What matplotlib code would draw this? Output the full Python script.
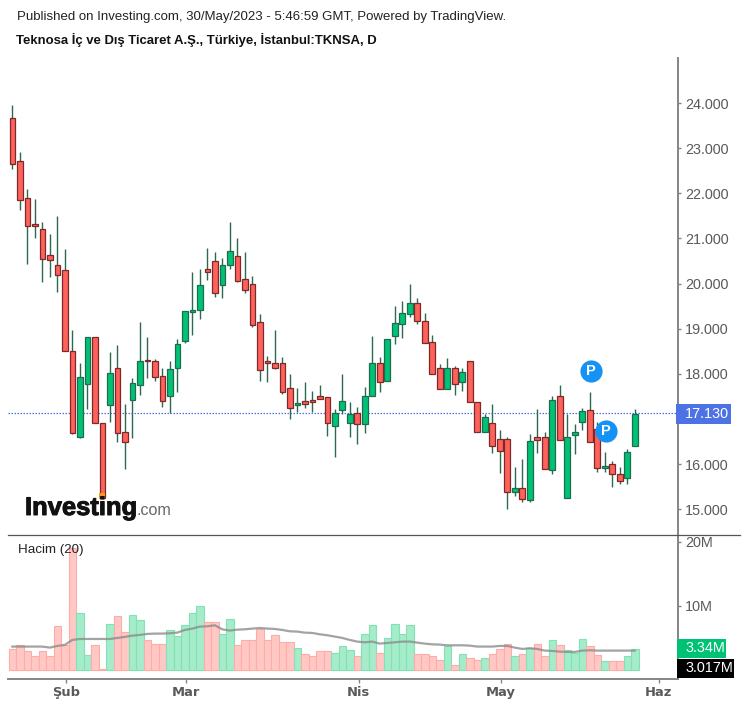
import matplotlib
matplotlib.use("Agg")
import matplotlib.pyplot as plt
import matplotlib.patheffects as pe
from matplotlib.lines import Line2D

plt.rcParams['font.family'] = ['Liberation Sans', 'DejaVu Sans']

# fiyat verisi
opens = [23.68, 22.71, 21.89, 21.31, 21.22, 20.64, 20.42, 20.30, 18.50, 16.61, 17.78, 18.81,
         16.92, 17.31, 18.14, 16.70, 17.42, 17.75, 18.30, 18.29, 17.95, 17.50, 18.12, 18.72,
         19.38, 19.42, 20.33, 20.50, 19.97, 20.42, 20.61, 20.11, 20.00, 19.14, 18.29, 18.25,
         18.23, 17.68, 17.31, 17.39, 17.42, 17.50, 17.48, 16.84, 17.20, 16.91, 17.14, 16.89,
         17.50, 18.25, 17.84, 18.83, 19.11, 19.33, 19.58, 19.17, 18.70, 18.14, 17.67, 18.14,
         17.81, 18.29, 17.37, 16.70, 16.90, 16.55, 16.55, 15.39, 15.48, 15.20, 16.59, 16.60,
         15.86, 17.51, 15.25, 16.64, 16.94, 17.20, 16.78, 15.92, 16.01, 15.79, 15.70, 16.40]
highs = [23.95, 22.92, 22.09, 21.87, 21.37, 21.11, 21.50, 20.76, 18.98, 18.23, 18.81, 18.81,
         16.92, 18.49, 18.65, 17.34, 17.90, 19.15, 18.82, 18.32, 18.12, 18.29, 18.78, 19.39,
         20.26, 20.33, 20.78, 20.70, 20.56, 21.36, 21.00, 20.70, 20.17, 19.32, 18.40, 18.98,
         18.37, 17.99, 17.68, 17.81, 17.62, 17.76, 17.48, 17.21, 17.99, 17.37, 17.27, 17.70,
         18.84, 18.37, 18.78, 19.51, 19.62, 20.00, 19.67, 19.34, 18.87, 18.21, 18.34, 18.17,
         18.14, 18.29, 17.37, 17.11, 17.34, 16.75, 16.59, 15.94, 16.12, 16.66, 17.21, 16.71,
         17.51, 17.76, 17.11, 16.88, 17.25, 17.59, 16.94, 16.27, 16.07, 15.93, 16.33, 17.21]
lows = [22.53, 21.63, 20.43, 21.01, 20.04, 20.15, 19.82, 18.50, 16.66, 16.58, 17.21, 16.92,
        15.24, 16.94, 16.49, 15.89, 16.58, 17.52, 17.91, 17.84, 17.27, 17.13, 17.60, 18.69,
        18.85, 19.22, 20.08, 19.71, 19.68, 20.33, 20.04, 19.79, 19.03, 17.85, 17.82, 18.10,
        17.55, 17.00, 17.16, 17.24, 17.16, 17.44, 16.63, 16.16, 17.12, 16.60, 16.44, 16.69,
        17.50, 17.60, 17.84, 18.66, 18.80, 19.26, 19.10, 18.69, 18.00, 17.67, 17.67, 17.52,
        17.63, 17.37, 16.72, 16.70, 16.25, 15.80, 15.00, 15.29, 15.16, 15.17, 16.25, 15.89,
        15.77, 16.53, 15.25, 16.22, 16.75, 16.50, 15.83, 15.83, 15.50, 15.55, 15.55, 16.40]
closes = [22.66, 21.86, 21.27, 21.27, 20.55, 20.53, 20.19, 18.50, 16.69, 17.92, 18.81, 16.92,
          15.24, 18.01, 16.69, 16.50, 17.79, 18.29, 18.28, 17.94, 17.39, 18.11, 18.67, 19.39,
          19.40, 19.97, 20.25, 19.80, 20.42, 20.72, 20.05, 19.85, 19.08, 18.08, 18.25, 18.14,
          17.60, 17.25, 17.35, 17.33, 17.37, 17.44, 16.90, 17.13, 17.40, 17.10, 16.89, 17.50,
          18.23, 17.81, 18.78, 19.12, 19.34, 19.58, 19.17, 18.69, 18.00, 17.67, 18.14, 17.78,
          18.05, 17.37, 16.72, 17.04, 16.40, 16.28, 15.39, 15.48, 15.23, 16.51, 16.53, 15.89,
          17.43, 16.53, 16.60, 16.71, 17.17, 16.50, 15.92, 15.94, 15.78, 15.62, 16.26, 17.12]

# hacim, milyon
volumes = [3.28, 3.90, 2.97, 2.14, 2.97, 2.14, 6.88, 3.90, 19.0, 8.96, 2.34, 3.90,
           0.10, 7.19, 8.44, 5.89, 8.60, 7.81, 4.69, 4.11, 4.11, 6.25, 5.26, 7.03,
           8.96, 10.0, 7.45, 7.45, 5.63, 7.97, 3.90, 4.69, 4.69, 6.46, 4.69, 5.47,
           4.32, 4.32, 3.49, 2.50, 2.19, 2.92, 2.92, 2.71, 3.70, 3.13, 2.14, 5.57,
           6.98, 2.71, 5.05, 7.14, 5.57, 6.98, 2.50, 2.50, 2.14, 1.56, 3.70, 0.78,
           2.50, 1.93, 1.56, 1.93, 2.50, 3.28, 4.06, 2.19, 2.50, 3.49, 4.06, 2.19,
           4.64, 3.85, 3.07, 2.71, 4.84, 3.70, 2.34, 1.35, 1.35, 1.35, 2.14, 3.34]
vol_ma = [3.65, 3.65, 3.65, 3.65, 3.65, 3.49, 3.75, 3.91, 4.69, 4.84, 4.84, 4.84,
          4.84, 4.84, 5.00, 5.16, 5.36, 5.47, 5.63, 5.68, 5.68, 5.73, 5.83, 6.25,
          6.46, 6.77, 6.82, 6.98, 6.35, 6.15, 6.30, 6.35, 6.46, 6.56, 6.46, 6.41,
          6.25, 6.04, 5.99, 5.83, 5.78, 5.57, 5.42, 5.21, 5.00, 4.69, 4.43, 4.32,
          4.43, 4.11, 4.22, 4.32, 4.43, 4.43, 4.27, 4.11, 4.00, 3.96, 3.85, 3.85,
          3.85, 3.80, 3.65, 3.65, 3.65, 3.75, 3.75, 3.49, 3.28, 3.39, 3.28, 3.02,
          2.97, 2.86, 2.81, 2.81, 3.02, 3.07, 3.02, 3.02, 3.02, 3.02, 3.02, 3.02]

price_ticks = [15, 16, 18, 19, 20, 21, 22, 23, 24]
month_pos = [7.17, 23.17, 46.17, 65.17, 86.17]
month_labels = ['Şub', 'Mar', 'Nis', 'May', 'Haz']
last_price = 17.13
p_x = [77.2, 79.2]
p_y = [18.06, 16.73]

W, H = 747, 707
BLUE = '#4d72e6'
GRAY = '#5a5a5a'
AXIS = '#858585'


def rect(left, top, right, bottom):
    return [left / W, 1 - bottom / H, (right - left) / W, (bottom - top) / H]


fig = plt.figure(figsize=(W / 100, H / 100), dpi=100)
ax = fig.add_axes(rect(8, 58, 677.5, 534))
axv = fig.add_axes(rect(8, 534, 677.5, 678.5), sharex=ax)

xs = list(range(len(opens)))
up = [c >= o for o, c in zip(opens, closes)]

# mumlar
ax.vlines(xs, lows, highs, color='#2c6a50', lw=1.0, zorder=2)
bottoms = [min(o, c) for o, c in zip(opens, closes)]
heights = [max(abs(c - o), 0.03) for o, c in zip(opens, closes)]
body = ['#00c274' if u else '#ff6259' for u in up]
edge = ['#1f6b52' if u else '#7a2a2a' for u in up]
ax.bar(xs, heights, 0.74, bottom=bottoms, color=body, edgecolor=edge, lw=0.9, zorder=3)
ax.scatter([12], [15.29], s=14, marker='s', color='#f59a14', lw=0, zorder=4)

ax.axhline(last_price, color=BLUE, lw=0.9, ls=(0, (1.2, 1.2)), zorder=1)

ax.scatter(p_x, p_y, s=255, color='#1592f5', lw=0, zorder=5)
for x, y in zip(p_x, p_y):
    ax.text(x, y, 'P', color='white', fontsize=10.5, fontweight='bold', ha='center', va='center', zorder=6)

ax.set_xlim(-0.573, 88.7)
ax.set_ylim(14.45, 25.0)
ax.yaxis.tick_right()
ax.set_yticks(price_ticks)
ax.set_yticklabels(['%.3f' % p for p in price_ticks])
ax.tick_params(axis='y', length=2.4, width=1, color=AXIS, labelcolor=GRAY, labelsize=10.4, pad=3)
ax.tick_params(axis='x', length=0, labelbottom=False)
for s in ['top', 'left', 'bottom']:
    ax.spines[s].set_visible(False)
ax.spines['right'].set_color(AXIS)
ax.spines['right'].set_linewidth(1.4)

# hacim paneli
vcol = ['#a6ecca' if u else '#ffc8c4' for u in up]
vedge = ['#7fe3b5' if u else '#ffaca6' for u in up]
axv.bar(xs, volumes, 1.0, color=vcol, edgecolor=vedge, lw=0.8, zorder=2)
axv.plot(xs, vol_ma, color='#8c8c8c', lw=1.6, alpha=0.8, zorder=3)
axv.set_ylim(-1.34, 21.25)
axv.yaxis.tick_right()
axv.set_yticks([10, 20])
axv.set_yticklabels(['10M', '20M'])
axv.tick_params(axis='y', length=2.4, width=1, color=AXIS, labelcolor=GRAY, labelsize=10.4, pad=3)
axv.set_xticks(month_pos)
axv.set_xticklabels(month_labels, family='DejaVu Sans', fontweight='bold', fontsize=9.4)
axv.tick_params(axis='x', length=2.6, width=1, color=AXIS, labelcolor=GRAY, pad=3)
for s in ['top', 'left']:
    axv.spines[s].set_visible(False)
axv.spines['right'].set_color(AXIS)
axv.spines['right'].set_linewidth(1.4)
axv.spines['bottom'].set_color(AXIS)
axv.spines['bottom'].set_linewidth(1.4)
axv.text(18 / W, 1 - 550 / H, 'Hacim (20)', transform=fig.transFigure, fontsize=9.6, color='#222222', va='center', zorder=7)

# panel ayırıcı çizgi
fig.add_artist(Line2D([8 / W, 740 / W], [1 - 534.5 / H, 1 - 534.5 / H], color='#555555', lw=0.9))


# sağ eksendeki etiket kutuları
def price_box(left, top, right, bottom, color, label):
    fig.patches.append(plt.Rectangle((left / W, 1 - bottom / H), (right - left) / W, (bottom - top) / H,
                                     transform=fig.transFigure, color=color, lw=0, zorder=8))
    fig.text(685 / W, 1 - (top + bottom) / 2 / H, label, color='white', fontsize=10.4,
             va='center', ha='left', zorder=9)


price_box(676, 404, 731, 424, BLUE, '17.130')
price_box(677, 639, 726, 658, '#00c274', '3.34M')
price_box(677, 659, 734, 678, 'black', '3.017M')

# başlık
fig.text(17 / W, 1 - 17 / H, 'Published on Investing.com, 30/May/2023 - 5:46:59 GMT, Powered by TradingView.',
         fontsize=9.5, color='#222222', va='center')
fig.text(16 / W, 1 - 40 / H, 'Teknosa İç ve Dış Ticaret A.Ş., Türkiye, İstanbul:TKNSA, D',
         fontsize=9.45, fontweight='bold', color='#111111', va='center')

# logo
t = fig.text(25 / W, 1 - 515 / H, 'Investing', fontsize=18.4, fontweight='bold', color='#111111',
             va='baseline', zorder=7)
t.set_path_effects([pe.withStroke(linewidth=0.7, foreground='#111111')])
fig.text(137 / W, 1 - 515 / H, '.com', fontsize=11.6, color='#666666', va='baseline', zorder=7)

fig.savefig('out.png', dpi=100)
